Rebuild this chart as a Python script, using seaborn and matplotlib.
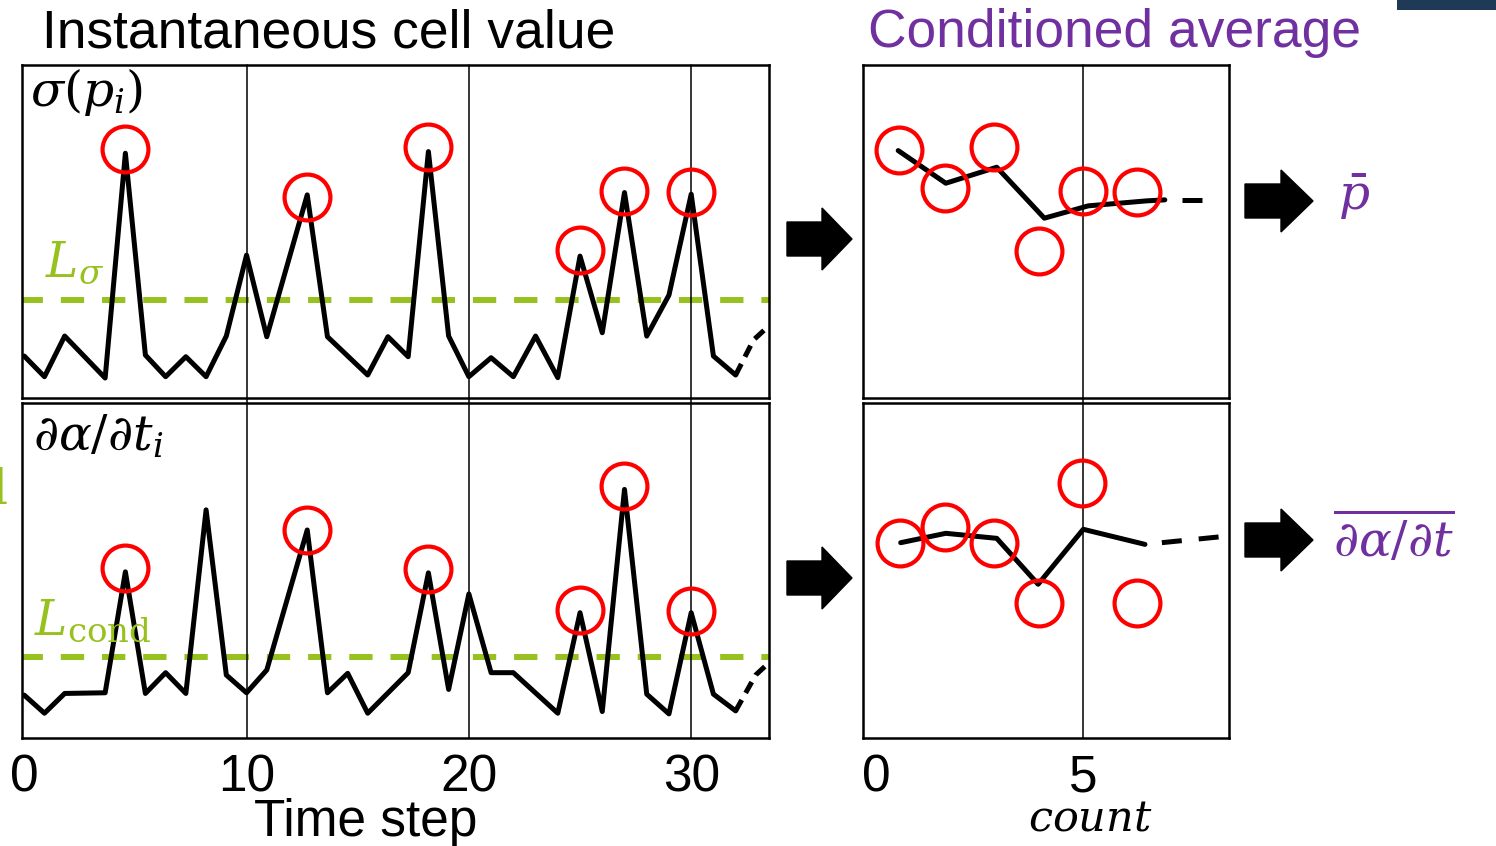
import numpy as np
import matplotlib
matplotlib.use("Agg")
import matplotlib.pyplot as plt
import seaborn as sns
from matplotlib.patches import FancyArrow, Rectangle

# ---------------- data ----------------
sigma_t = [0, 0.91, 1.82, 3.64, 4.55, 5.45, 6.36, 7.27, 8.18, 9.09, 10,
           10.91, 12.73, 13.64, 15.45, 16.36, 17.27, 18.18, 19.09, 20,
           21, 22, 23, 24, 25, 26, 27, 28, 29, 30, 31, 32]
sigma_v = [1.26, 0.64, 1.86, 0.60, 7.35, 1.29, 0.64, 1.24, 0.64, 1.86, 4.29,
           1.84, 6.10, 1.84, 0.69, 1.84, 1.24, 7.40, 1.86, 0.64,
           1.21, 0.64, 1.86, 0.61, 4.26, 1.96, 6.17, 1.86, 3.09, 6.12, 1.26, 0.69]
sigma_tail_t = [32, 32.8, 33.45]
sigma_tail_v = [0.69, 1.74, 2.14]
sigma_cond_t = [4.55, 12.73, 18.18, 25, 27, 30]
sigma_cond_v = [7.47, 6.05, 7.53, 4.44, 6.23, 6.20]
L_sigma = 2.94

dadt_t = [0, 0.91, 1.82, 3.64, 4.55, 5.45, 6.36, 7.27, 8.18, 9.09, 10,
          10.91, 12.73, 13.64, 14.55, 15.45, 17.27, 18.18, 19.09, 20,
          21, 22, 24, 25, 26, 27, 28, 29, 30, 31, 32]
dadt_v = [1.28, 0.74, 1.33, 1.35, 4.96, 1.33, 1.95, 1.33, 6.81, 1.88, 1.35,
          2.03, 6.21, 1.35, 1.93, 0.74, 1.95, 4.93, 1.45, 4.30,
          1.95, 1.95, 0.74, 3.74, 0.79, 7.42, 1.31, 0.72, 3.74, 1.31, 0.81]
dadt_tail_t = [32, 32.9, 33.55]
dadt_tail_v = [0.81, 1.88, 2.28]
dadt_cond_t = [4.55, 12.73, 18.18, 25, 27, 30]
dadt_cond_v = [5.07, 6.21, 5.04, 3.82, 7.52, 3.80]
L_cond = 2.42

pbar_circ_x = [0.56, 1.67, 2.85, 3.94, 5.0, 6.3]
pbar_circ_v = [7.45, 6.30, 7.53, 4.42, 6.22, 6.18]
pbar_line_x = [0.54, 1.69, 2.92, 4.07, 5.13, 6.54, 6.98]
pbar_line_v = [7.43, 6.45, 6.93, 5.40, 5.77, 5.92, 5.95]
pbar_tail_x = [6.98, 8.3]
pbar_tail_v = [5.95, 5.95]

dbar_circ_x = [0.58, 1.67, 2.85, 3.94, 4.99, 6.3]
dbar_circ_v = [5.81, 6.29, 5.81, 4.02, 7.62, 4.02]
dbar_line_x = [0.60, 1.69, 2.92, 3.92, 5.01, 6.5]
dbar_line_v = [5.83, 6.11, 5.96, 4.59, 6.23, 5.78]
dbar_tail_x = [6.5, 8.35]
dbar_tail_v = [5.78, 6.01]

time_ticks = [0, 10, 20, 30]
count_ticks = [0, 5]

# ---------------- style ----------------
sns.set_style("white")
plt.rcParams["font.family"] = ["Liberation Sans", "DejaVu Sans"]
plt.rcParams["mathtext.fontset"] = "dejavuserif"
plt.rcParams["text.color"] = "black"
plt.rcParams["xtick.color"] = "black"
plt.rcParams["xtick.labelcolor"] = "black"

GREEN = "#97C11F"
PURPLE = "#7030A0"
RED = "#FF0000"
W, H = 1496, 846

fig = plt.figure(figsize=(W / 100, H / 100), dpi=100)


def box(x0, y0, x1, y1):
    return [x0 / W, 1 - y1 / H, (x1 - x0) / W, (y1 - y0) / H]


ax_s = fig.add_axes(box(22, 65, 769, 398))
ax_d = fig.add_axes(box(22, 403, 769, 738))
ax_p = fig.add_axes(box(863, 65, 1229, 398))
ax_q = fig.add_axes(box(863, 403, 1229, 738))

LW = 3.6
circ_kw = dict(linestyle="", marker="o", markersize=33, markerfacecolor="none",
               markeredgecolor=RED, markeredgewidth=3.0, color=RED,
               estimator=None, sort=False, zorder=5)
line_kw = dict(color="black", linewidth=LW, estimator=None, sort=False, zorder=4)


def draw_left(ax, t, v, tt, tv, ct, cv, lev):
    ax.axhline(lev, color=GREEN, linewidth=4.3, linestyle=(0.4, (3.9, 3.0)), zorder=2)
    sns.lineplot(x=np.array(t), y=np.array(v), ax=ax, **line_kw)
    sns.lineplot(x=np.array(tt), y=np.array(tv), ax=ax, color="black",
                 linewidth=LW, linestyle=(0, (2.5, 1.6)), estimator=None,
                 sort=False, zorder=4)
    sns.lineplot(x=np.array(ct), y=np.array(cv), ax=ax, **circ_kw)
    ax.set_xlim(-0.1, 33.5)
    ax.set_ylim(0, 10)


def draw_right(ax, lx, lv, tx, tv, cx, cv):
    sns.lineplot(x=np.array(lx), y=np.array(lv), ax=ax, **line_kw)
    sns.lineplot(x=np.array(tx), y=np.array(tv), ax=ax, color="black",
                 linewidth=LW, linestyle=(4.0, (4.0, 3.4)), estimator=None,
                 sort=False, zorder=4)
    sns.lineplot(x=np.array(cx), y=np.array(cv), ax=ax, **circ_kw)
    ax.set_xlim(-0.31, 8.53)
    ax.set_ylim(0, 10)


draw_left(ax_s, sigma_t, sigma_v, sigma_tail_t, sigma_tail_v, sigma_cond_t, sigma_cond_v, L_sigma)
draw_left(ax_d, dadt_t, dadt_v, dadt_tail_t, dadt_tail_v, dadt_cond_t, dadt_cond_v, L_cond)
draw_right(ax_p, pbar_line_x, pbar_line_v, pbar_tail_x, pbar_tail_v, pbar_circ_x, pbar_circ_v)
draw_right(ax_q, dbar_line_x, dbar_line_v, dbar_tail_x, dbar_tail_v, dbar_circ_x, dbar_circ_v)

# vertical guide lines
for x in time_ticks[1:]:
    ax_s.axvline(x, ymin=-0.016, ymax=1, color="black", linewidth=1.1, clip_on=False, zorder=3)
    ax_d.axvline(x, color="black", linewidth=1.1, zorder=3)
ax_p.axvline(5, ymin=-0.016, ymax=1, color="black", linewidth=1.1, clip_on=False, zorder=3)
ax_q.axvline(5, color="black", linewidth=1.1, zorder=3)

for ax in (ax_s, ax_d, ax_p, ax_q):
    ax.set_xlabel("")
    ax.set_ylabel("")
    ax.set_yticks([])
    for sp in ax.spines.values():
        sp.set_visible(True)
        sp.set_color("black")
        sp.set_linewidth(1.8)
    ax.tick_params(axis="x", length=0, labelsize=37, pad=11, labelcolor="black")

ax_s.set_xticks(time_ticks)
ax_s.tick_params(labelbottom=False)
ax_d.set_xticks(time_ticks)
ax_d.set_xticklabels([str(v) for v in time_ticks])
ax_p.set_xticks(count_ticks)
ax_p.tick_params(labelbottom=False)
ax_q.set_xticks(count_ticks)
ax_q.set_xticklabels([str(v) for v in count_ticks])

# ---------------- texts ----------------
def ftext(px, py, s, **kw):
    return fig.text(px / W, 1 - py / H, s, **kw)


MS = 35  # math label size
ftext(42, 47, "Instantaneous cell value", fontsize=38.4, color="black", va="baseline")
ftext(868, 47, "Conditioned average", fontsize=38.4, color=PURPLE, va="baseline")
ftext(366, 836, "Time step", fontsize=37, color="black", ha="center", va="baseline")
ftext(1090, 830, r"$count$", fontsize=31, color="black", ha="center", va="baseline")

ftext(30, 106, r"$\sigma(p_i)$", fontsize=MS, color="black", va="baseline")
ftext(33, 450, r"$\partial\alpha/\partial t_i$", fontsize=MS, color="black", va="baseline")
ftext(45, 276, r"$L_\sigma$", fontsize=MS, color=GREEN, va="baseline")
ftext(34, 634, r"$L_{\mathrm{cond}}$", fontsize=MS, color=GREEN, va="baseline")
ftext(8, 503, r"$\mathrm{cond}$", fontsize=MS, color=GREEN, ha="right", va="baseline")

ftext(1338, 210, r"$\bar{p}$", fontsize=MS, color=PURPLE, va="baseline")
ftext(1333, 557, r"$\overline{\partial\alpha/\partial t}$", fontsize=MS, color=PURPLE, va="baseline")

# ---------------- arrows & decoration ----------------
def arrow(x0, x1, yc, body=34, head=62, hl=30):
    fig.add_artist(FancyArrow(x0 / W, 1 - yc / H, (x1 - x0) / W, 0,
                              width=body / H, head_width=head / H,
                              head_length=hl / W, length_includes_head=True,
                              color="black", transform=fig.transFigure))


arrow(787, 852, 239)
arrow(787, 852, 578)
arrow(1245, 1313, 201, hl=32)
arrow(1245, 1313, 540, hl=32)

fig.add_artist(Rectangle((1397 / W, 1 - 10 / H), 99 / W, 10 / H,
                         facecolor="#1F3A56", edgecolor="none",
                         transform=fig.transFigure))

fig.savefig("out.png", dpi=100)
